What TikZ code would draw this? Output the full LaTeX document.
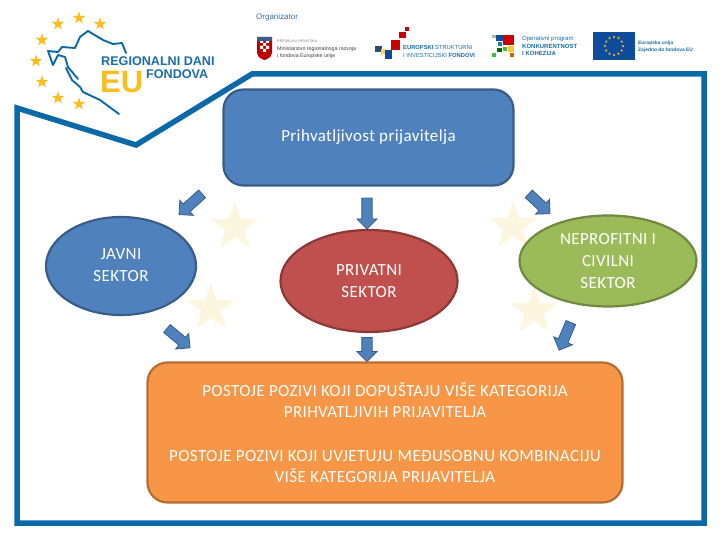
\documentclass[tikz,border=0pt]{standalone}
\usepackage{fontspec}
\setmainfont{Carlito}
\newfontfamily\logofont{Liberation Sans}
\usetikzlibrary{shapes.geometric,shapes.arrows}
\definecolor{framec}{HTML}{0B69A8}
\definecolor{goldc}{HTML}{FBBD20}
\definecolor{starc}{HTML}{FDF6DF}
\definecolor{bluef}{HTML}{4F81BD}
\definecolor{blued}{HTML}{385D8A}
\definecolor{redf}{HTML}{C0504D}
\definecolor{redd}{HTML}{8C3836}
\definecolor{greenf}{HTML}{9BBB59}
\definecolor{greend}{HTML}{71893F}
\definecolor{orangef}{HTML}{F79646}
\definecolor{oranged}{HTML}{B66D31}
\definecolor{logoblue}{HTML}{1A6DA8}
\definecolor{euflag}{HTML}{0F4C9C}
\newcommand{\shaftbox}{\rule{0pt}{9.5pt}}
\tikzset{
  x=1pt,y=-1pt,
  bigtext/.style={text=white,align=center,font=\fontsize{17}{21.6}\selectfont\addfontfeature{LetterSpace=2.2}},
  blob/.style={ellipse,line width=2.2pt,inner sep=0pt,bigtext},
  panel/.style={rounded corners=20pt,line width=2.2pt,inner sep=0pt,bigtext},
  blockarrow/.style={single arrow,fill=bluef,draw=blued,line width=0.8pt,inner sep=0pt,
     minimum width=19pt,single arrow head extend=5pt,single arrow head indent=0pt},
  palestar/.style={star,star points=5,star point ratio=2.5,fill=starc,draw=none,minimum size=50pt,inner sep=0pt},
  goldstar/.style={star,star points=5,star point ratio=2.5,fill=goldc,draw=none,minimum size=13pt,inner sep=0pt},
  flagstar/.style={star,star points=5,star point ratio=2.5,fill=goldc,draw=none,minimum size=3pt,inner sep=0pt},
  small/.style={inner sep=0pt,anchor=west,align=left},
}
\begin{document}
\begin{tikzpicture}
\useasboundingbox (0,0) rectangle (720,540);
\fill[white] (0,0) rectangle (720,540);
% frame
\draw[framec,line width=5.5pt,miter limit=10] (17,108) -- (136,145) -- (252,74) -- (704,74) -- (704,523) -- (17,523) -- cycle;
% pale stars
\node[palestar] (s1) at (235,227) {};
\node[palestar] (s2) at (211,308) {};
\node[palestar] (s3) at (513,226) {};
\node[palestar] (s4) at (534,311) {};
% logo stars
\foreach \n/\p in {a/{79,18},b/{100,24},c/{58,24},d/{42,40},e/{36,61},f/{42,82},g/{58,98},h/{79,104}}
  \node[goldstar] (g\n) at (\p) {};
% Croatia outline
\draw[framec,line width=1.9pt,line join=round,line cap=round]
  (126,53) -- (122,43) -- (113,44) -- (103,40) -- (88,31) -- (80,37) -- (75,48) -- (62,47) -- (58,52) -- (48,51) -- (53,65) -- (58,55) -- (65,57) -- (68,67) -- (78,79)
  (66,68) -- (72,80) -- (80,87) -- (83,92) -- (100,100) -- (119,114);
% logo text
\node[small,text=logoblue,font=\logofont\bfseries\fontsize{12.6}{12.6}\selectfont] (t1) at (101,61.5) {REGIONALNI DANI};
\node[small,text=goldc,font=\logofont\bfseries\fontsize{31}{31}\selectfont] (t2) at (100,81.5) {EU};
\node[small,text=logoblue,font=\logofont\bfseries\fontsize{12.6}{12.6}\selectfont] (t3) at (146,74) {FONDOVA};
% header logos
\node[small,text=logoblue!70!gray,font=\logofont\fontsize{8}{8}\selectfont] (org) at (256,17.5) {Organizator};
\fill[red!75!black] (257,37) rectangle (272,53) (257,53) .. controls (258,58) and (262,59) .. (264.5,60) .. controls (267,59) and (271,58) .. (272,53) -- cycle;
\fill[white] (260,40) rectangle (263,43) (266,40) rectangle (269,43) (263,43) rectangle (266,46) (260,46) rectangle (263,49) (266,46) rectangle (269,49) (263,49) rectangle (266,52);
\fill[blued] (257,37) rectangle (272,41);
\node[small,text=gray,font=\logofont\fontsize{3.6}{4}\selectfont] (m0) at (277,41) {REPUBLIKA HRVATSKA};
\node[small,text=black!75,font=\logofont\fontsize{5.3}{7}\selectfont] (m1) at (277,53) {Ministarstvo regionalnoga razvoja\\i fondova Europske unije};
% ESI logo
\fill[blued!80!black] (375,46) rectangle (382,52);
\fill[goldc!70] (381,49) rectangle (386,54);
\fill[euflag] (385,50) rectangle (392,59);
\fill[red!80!black] (391,40) rectangle (400,50);
\fill[red!80!black] (399,32) rectangle (406,38);
\fill[red!80!black] (405,27) rectangle (409,31);
\node[small,text=logoblue,font=\logofont\fontsize{5.8}{8}\selectfont] (e1) at (403,52) {\textbf{EUROPSKI} STRUKTURNI\\I INVESTICIJSKI \textbf{FONDOVI}};
% OPKK logo
\fill[red!80!black] (503,35) rectangle (514,45);
\fill[euflag] (496,35) rectangle (503,41);
\fill[gray!60] (492,35) rectangle (496,38);
\fill[cyan!60!blue] (498,42) rectangle (502,46);
\fill[goldc!90] (508,46) rectangle (514,52);
\fill[green!45!gray] (503,47) rectangle (507,51);
\fill[green!40!black] (497,48) rectangle (502,52);
\fill[green!50!gray] (492,53) rectangle (496,57);
\fill[orange!80!black] (510,53) rectangle (514,57);
\node[small,text=logoblue,font=\logofont\fontsize{6}{7.8}\selectfont] (o1) at (522,46) {Operativni program\\\textbf{KONKURENTNOST}\\\textbf{I KOHEZIJA}};
% EU flag
\fill[euflag] (593,32) rectangle (635,60);
\foreach \a in {0,30,...,330}
  \node[flagstar] (f\a) at ({614+9*cos(\a)},{46+9*sin(\a)}) {};
\node[small,text=logoblue,font=\logofont\bfseries\fontsize{4.9}{7}\selectfont] (eu) at (638,47) {Europska unija\\Zajedno do fondova EU};
% arrows
\node[blockarrow,minimum height=31pt,rotate=-138] (a1) at (192.5,202.5) {\shaftbox};
\node[blockarrow,minimum height=31pt,rotate=-90] (a2) at (367,211) {\shaftbox};
\node[blockarrow,minimum height=29pt,rotate=-43] (a3) at (537.5,202) {\shaftbox};
\node[blockarrow,minimum height=30pt,rotate=-40] (a4) at (176.5,336.5) {\shaftbox};
\node[blockarrow,minimum height=24pt,rotate=-90] (a5) at (367,347) {\shaftbox};
\node[blockarrow,minimum height=30pt,rotate=-113] (a6) at (566,334) {\shaftbox};
% nodes
\node[panel,draw=blued,fill=bluef,minimum width=290pt,minimum height=96pt] (top) at (368.5,137.5) {\raisebox{-2pt}{Prihvatljivost prijavitelja}};
\node[blob,draw=blued,fill=bluef,minimum width=150pt,minimum height=98pt] (javni) at (121,266) {\raisebox{9pt}{\begin{tabular}{@{}c@{}}JAVNI\\SEKTOR\end{tabular}}};
\node[blob,draw=redd,fill=redf,minimum width=177pt,minimum height=102pt] (priv) at (369,281) {PRIVATNI\\SEKTOR};
\node[blob,draw=greend,fill=greenf,minimum width=177pt,minimum height=91pt] (nepr) at (608,261) {NEPROFITNI I\\CIVILNI\\SEKTOR};
\node[panel,draw=oranged,fill=orangef,minimum width=475pt,minimum height=140pt] (box) at (385,432.5)
 {POSTOJE POZIVI KOJI DOPUŠTAJU VIŠE KATEGORIJA\\PRIHVATLJIVIH PRIJAVITELJA\\[21.6pt]POSTOJE POZIVI KOJI UVJETUJU MEĐUSOBNU KOMBINACIJU\\VIŠE KATEGORIJA PRIJAVITELJA};
\end{tikzpicture}
\end{document}
